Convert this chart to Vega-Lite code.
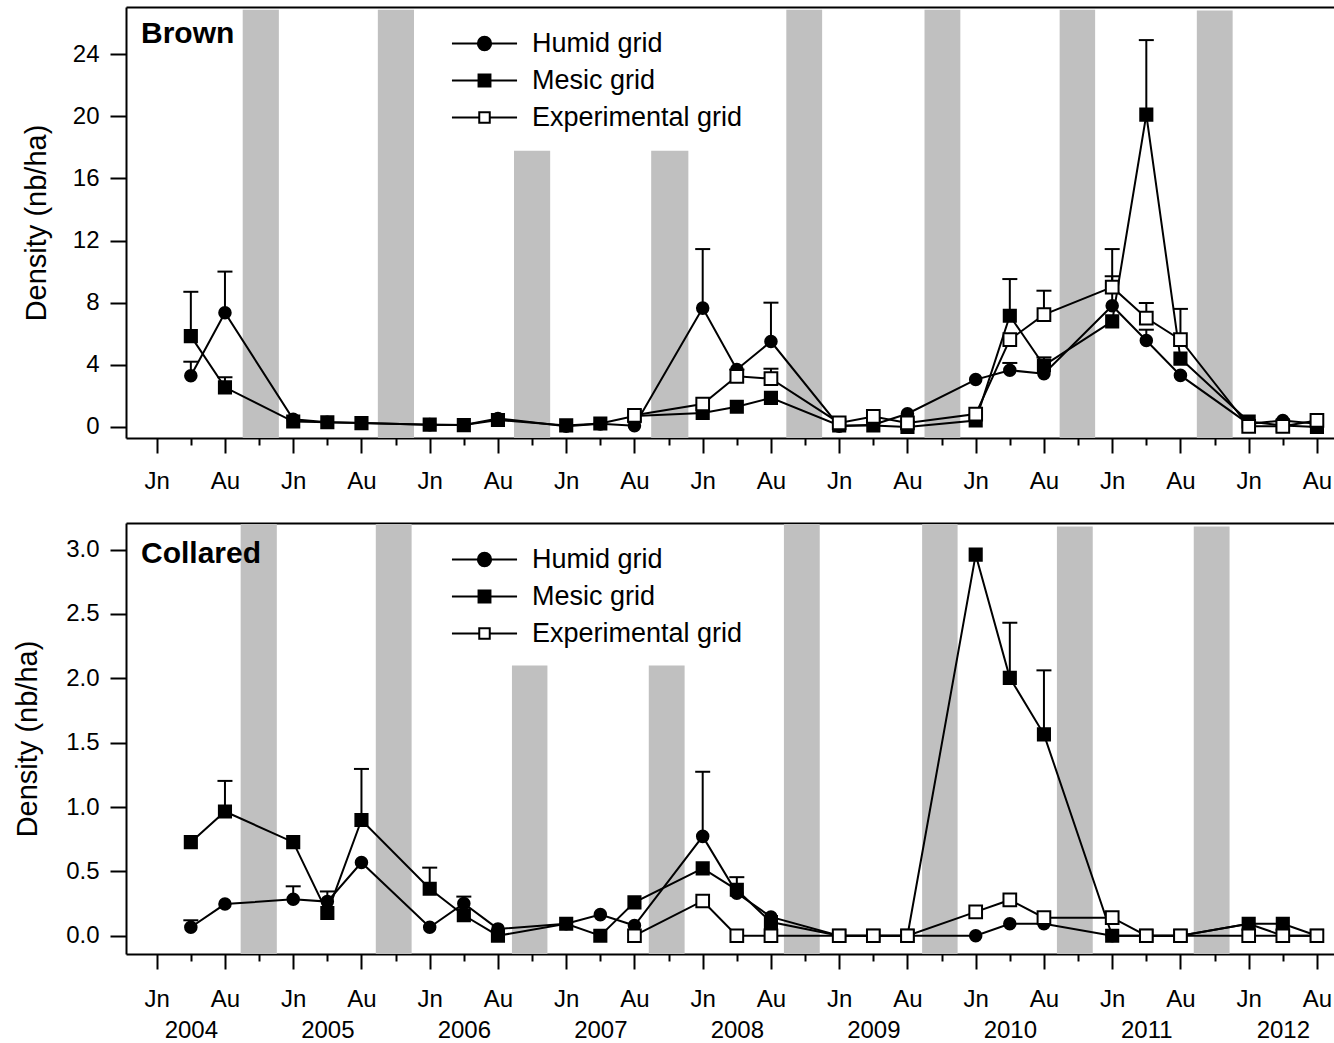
{
  "$schema": "https://vega.github.io/schema/vega-lite/v6.json",
  "padding": {"left": 13, "top": 7, "right": 0, "bottom": 0},
  "spacing": 29,
  "background": "white",
  "config": {
    "view": {"stroke": null},
    "font": "Liberation Sans",
    "axis": {"labelColor": "black", "titleColor": "black", "domainColor": "black", "tickColor": "black", "domainWidth": 2, "tickWidth": 2, "grid": false, "labelFont": "Liberation Sans", "titleFont": "Liberation Sans"},
    "legend": {"labelFont": "Liberation Sans", "labelColor": "black"}
  },
  "resolve": {"scale": {"x": "independent", "y": "independent", "shape": "independent", "fill": "independent", "size": "independent"}, "legend": {"shape": "independent", "fill": "independent", "size": "independent"}},
  "datasets": {
    "series": [
      {"p": "Brown", "g": "Humid  grid", "t": 1, "v": 3.3, "e": 4.2},
      {"p": "Brown", "g": "Humid  grid", "t": 2, "v": 7.35, "e": 10.0},
      {"p": "Brown", "g": "Humid  grid", "t": 4, "v": 0.5},
      {"p": "Brown", "g": "Humid  grid", "t": 5, "v": 0.3},
      {"p": "Brown", "g": "Humid  grid", "t": 6, "v": 0.25},
      {"p": "Brown", "g": "Humid  grid", "t": 8, "v": 0.15},
      {"p": "Brown", "g": "Humid  grid", "t": 9, "v": 0.12},
      {"p": "Brown", "g": "Humid  grid", "t": 10, "v": 0.55},
      {"p": "Brown", "g": "Humid  grid", "t": 12, "v": 0.05},
      {"p": "Brown", "g": "Humid  grid", "t": 13, "v": 0.2},
      {"p": "Brown", "g": "Humid  grid", "t": 14, "v": 0.08},
      {"p": "Brown", "g": "Humid  grid", "t": 16, "v": 7.65, "e": 11.45},
      {"p": "Brown", "g": "Humid  grid", "t": 17, "v": 3.7},
      {"p": "Brown", "g": "Humid  grid", "t": 18, "v": 5.5, "e": 8.0},
      {"p": "Brown", "g": "Humid  grid", "t": 20, "v": 0.05},
      {"p": "Brown", "g": "Humid  grid", "t": 21, "v": 0.15},
      {"p": "Brown", "g": "Humid  grid", "t": 22, "v": 0.85},
      {"p": "Brown", "g": "Humid  grid", "t": 24, "v": 3.05},
      {"p": "Brown", "g": "Humid  grid", "t": 25, "v": 3.65, "e": 4.12},
      {"p": "Brown", "g": "Humid  grid", "t": 26, "v": 3.43},
      {"p": "Brown", "g": "Humid  grid", "t": 28, "v": 7.8, "e": 9.7},
      {"p": "Brown", "g": "Humid  grid", "t": 29, "v": 5.57, "e": 6.26},
      {"p": "Brown", "g": "Humid  grid", "t": 30, "v": 3.32},
      {"p": "Brown", "g": "Humid  grid", "t": 32, "v": 0.2},
      {"p": "Brown", "g": "Humid  grid", "t": 33, "v": 0.42},
      {"p": "Brown", "g": "Humid  grid", "t": 34, "v": 0.2},
      {"p": "Brown", "g": "Mesic grid", "t": 1, "v": 5.85, "e": 8.7},
      {"p": "Brown", "g": "Mesic grid", "t": 2, "v": 2.55, "e": 3.2},
      {"p": "Brown", "g": "Mesic grid", "t": 4, "v": 0.35},
      {"p": "Brown", "g": "Mesic grid", "t": 5, "v": 0.3},
      {"p": "Brown", "g": "Mesic grid", "t": 6, "v": 0.25},
      {"p": "Brown", "g": "Mesic grid", "t": 8, "v": 0.15},
      {"p": "Brown", "g": "Mesic grid", "t": 9, "v": 0.12},
      {"p": "Brown", "g": "Mesic grid", "t": 10, "v": 0.45},
      {"p": "Brown", "g": "Mesic grid", "t": 12, "v": 0.1},
      {"p": "Brown", "g": "Mesic grid", "t": 13, "v": 0.22},
      {"p": "Brown", "g": "Mesic grid", "t": 14, "v": 0.7},
      {"p": "Brown", "g": "Mesic grid", "t": 16, "v": 0.9},
      {"p": "Brown", "g": "Mesic grid", "t": 17, "v": 1.3},
      {"p": "Brown", "g": "Mesic grid", "t": 18, "v": 1.87},
      {"p": "Brown", "g": "Mesic grid", "t": 20, "v": 0.1},
      {"p": "Brown", "g": "Mesic grid", "t": 21, "v": 0.1},
      {"p": "Brown", "g": "Mesic grid", "t": 22, "v": 0.0},
      {"p": "Brown", "g": "Mesic grid", "t": 24, "v": 0.42},
      {"p": "Brown", "g": "Mesic grid", "t": 25, "v": 7.16, "e": 9.52},
      {"p": "Brown", "g": "Mesic grid", "t": 26, "v": 3.96, "e": 4.48},
      {"p": "Brown", "g": "Mesic grid", "t": 28, "v": 6.8},
      {"p": "Brown", "g": "Mesic grid", "t": 29, "v": 20.1, "e": 24.9},
      {"p": "Brown", "g": "Mesic grid", "t": 30, "v": 4.4},
      {"p": "Brown", "g": "Mesic grid", "t": 32, "v": 0.35},
      {"p": "Brown", "g": "Mesic grid", "t": 33, "v": 0.1},
      {"p": "Brown", "g": "Mesic grid", "t": 34, "v": 0.0},
      {"p": "Brown", "g": "Experimental grid", "t": 14, "v": 0.75},
      {"p": "Brown", "g": "Experimental grid", "t": 16, "v": 1.48},
      {"p": "Brown", "g": "Experimental grid", "t": 17, "v": 3.26, "e": 3.7},
      {"p": "Brown", "g": "Experimental grid", "t": 18, "v": 3.11, "e": 3.75},
      {"p": "Brown", "g": "Experimental grid", "t": 20, "v": 0.26},
      {"p": "Brown", "g": "Experimental grid", "t": 21, "v": 0.68},
      {"p": "Brown", "g": "Experimental grid", "t": 22, "v": 0.26},
      {"p": "Brown", "g": "Experimental grid", "t": 24, "v": 0.83},
      {"p": "Brown", "g": "Experimental grid", "t": 25, "v": 5.62},
      {"p": "Brown", "g": "Experimental grid", "t": 26, "v": 7.23, "e": 8.77},
      {"p": "Brown", "g": "Experimental grid", "t": 28, "v": 9.0, "e": 11.45},
      {"p": "Brown", "g": "Experimental grid", "t": 29, "v": 7.01, "e": 7.98},
      {"p": "Brown", "g": "Experimental grid", "t": 30, "v": 5.62, "e": 7.6},
      {"p": "Brown", "g": "Experimental grid", "t": 32, "v": 0.04},
      {"p": "Brown", "g": "Experimental grid", "t": 33, "v": 0.04},
      {"p": "Brown", "g": "Experimental grid", "t": 34, "v": 0.42},
      {"p": "Collared", "g": "Humid  grid", "t": 1, "v": 0.066, "e": 0.12},
      {"p": "Collared", "g": "Humid  grid", "t": 2, "v": 0.246},
      {"p": "Collared", "g": "Humid  grid", "t": 4, "v": 0.283, "e": 0.384},
      {"p": "Collared", "g": "Humid  grid", "t": 5, "v": 0.265, "e": 0.344},
      {"p": "Collared", "g": "Humid  grid", "t": 6, "v": 0.569},
      {"p": "Collared", "g": "Humid  grid", "t": 8, "v": 0.066},
      {"p": "Collared", "g": "Humid  grid", "t": 9, "v": 0.251, "e": 0.304},
      {"p": "Collared", "g": "Humid  grid", "t": 10, "v": 0.053},
      {"p": "Collared", "g": "Humid  grid", "t": 12, "v": 0.093},
      {"p": "Collared", "g": "Humid  grid", "t": 13, "v": 0.164},
      {"p": "Collared", "g": "Humid  grid", "t": 14, "v": 0.079},
      {"p": "Collared", "g": "Humid  grid", "t": 16, "v": 0.772, "e": 1.274},
      {"p": "Collared", "g": "Humid  grid", "t": 17, "v": 0.331},
      {"p": "Collared", "g": "Humid  grid", "t": 18, "v": 0.146},
      {"p": "Collared", "g": "Humid  grid", "t": 20, "v": 0},
      {"p": "Collared", "g": "Humid  grid", "t": 21, "v": 0},
      {"p": "Collared", "g": "Humid  grid", "t": 22, "v": 0},
      {"p": "Collared", "g": "Humid  grid", "t": 24, "v": 0},
      {"p": "Collared", "g": "Humid  grid", "t": 25, "v": 0.093},
      {"p": "Collared", "g": "Humid  grid", "t": 26, "v": 0.093},
      {"p": "Collared", "g": "Humid  grid", "t": 28, "v": 0},
      {"p": "Collared", "g": "Humid  grid", "t": 29, "v": 0},
      {"p": "Collared", "g": "Humid  grid", "t": 30, "v": 0},
      {"p": "Collared", "g": "Humid  grid", "t": 32, "v": 0.093},
      {"p": "Collared", "g": "Humid  grid", "t": 33, "v": 0},
      {"p": "Collared", "g": "Humid  grid", "t": 34, "v": 0},
      {"p": "Collared", "g": "Mesic grid", "t": 1, "v": 0.727},
      {"p": "Collared", "g": "Mesic grid", "t": 2, "v": 0.965, "e": 1.203},
      {"p": "Collared", "g": "Mesic grid", "t": 4, "v": 0.727},
      {"p": "Collared", "g": "Mesic grid", "t": 5, "v": 0.177},
      {"p": "Collared", "g": "Mesic grid", "t": 6, "v": 0.899, "e": 1.296},
      {"p": "Collared", "g": "Mesic grid", "t": 8, "v": 0.365, "e": 0.529},
      {"p": "Collared", "g": "Mesic grid", "t": 9, "v": 0.159},
      {"p": "Collared", "g": "Mesic grid", "t": 10, "v": 0.0},
      {"p": "Collared", "g": "Mesic grid", "t": 12, "v": 0.093},
      {"p": "Collared", "g": "Mesic grid", "t": 13, "v": 0.0},
      {"p": "Collared", "g": "Mesic grid", "t": 14, "v": 0.259},
      {"p": "Collared", "g": "Mesic grid", "t": 16, "v": 0.523},
      {"p": "Collared", "g": "Mesic grid", "t": 17, "v": 0.357, "e": 0.455},
      {"p": "Collared", "g": "Mesic grid", "t": 18, "v": 0.106},
      {"p": "Collared", "g": "Mesic grid", "t": 20, "v": 0},
      {"p": "Collared", "g": "Mesic grid", "t": 21, "v": 0},
      {"p": "Collared", "g": "Mesic grid", "t": 22, "v": 0},
      {"p": "Collared", "g": "Mesic grid", "t": 24, "v": 2.961},
      {"p": "Collared", "g": "Mesic grid", "t": 25, "v": 2.004, "e": 2.432},
      {"p": "Collared", "g": "Mesic grid", "t": 26, "v": 1.565, "e": 2.062},
      {"p": "Collared", "g": "Mesic grid", "t": 28, "v": 0},
      {"p": "Collared", "g": "Mesic grid", "t": 29, "v": 0},
      {"p": "Collared", "g": "Mesic grid", "t": 30, "v": 0},
      {"p": "Collared", "g": "Mesic grid", "t": 32, "v": 0.093},
      {"p": "Collared", "g": "Mesic grid", "t": 33, "v": 0.093},
      {"p": "Collared", "g": "Mesic grid", "t": 34, "v": 0},
      {"p": "Collared", "g": "Experimental grid", "t": 14, "v": 0},
      {"p": "Collared", "g": "Experimental grid", "t": 16, "v": 0.27},
      {"p": "Collared", "g": "Experimental grid", "t": 17, "v": 0},
      {"p": "Collared", "g": "Experimental grid", "t": 18, "v": 0},
      {"p": "Collared", "g": "Experimental grid", "t": 20, "v": 0},
      {"p": "Collared", "g": "Experimental grid", "t": 21, "v": 0},
      {"p": "Collared", "g": "Experimental grid", "t": 22, "v": 0},
      {"p": "Collared", "g": "Experimental grid", "t": 24, "v": 0.185},
      {"p": "Collared", "g": "Experimental grid", "t": 25, "v": 0.278},
      {"p": "Collared", "g": "Experimental grid", "t": 26, "v": 0.14},
      {"p": "Collared", "g": "Experimental grid", "t": 28, "v": 0.14},
      {"p": "Collared", "g": "Experimental grid", "t": 29, "v": 0},
      {"p": "Collared", "g": "Experimental grid", "t": 30, "v": 0},
      {"p": "Collared", "g": "Experimental grid", "t": 32, "v": 0},
      {"p": "Collared", "g": "Experimental grid", "t": 33, "v": 0},
      {"p": "Collared", "g": "Experimental grid", "t": 34, "v": 0}
    ],
    "winters": [
      {"p": "Brown", "s": 2.52, "f": 3.58, "top": 26.85},
      {"p": "Brown", "s": 6.48, "f": 7.54, "top": 26.85},
      {"p": "Brown", "s": 10.47, "f": 11.53, "top": 17.77},
      {"p": "Brown", "s": 14.49, "f": 15.58, "top": 17.77},
      {"p": "Brown", "s": 18.45, "f": 19.5, "top": 26.85},
      {"p": "Brown", "s": 22.5, "f": 23.55, "top": 26.85},
      {"p": "Brown", "s": 26.46, "f": 27.5, "top": 26.85},
      {"p": "Brown", "s": 30.48, "f": 31.53, "top": 26.8},
      {"p": "Collared", "s": 2.46, "f": 3.52, "top": 3.2},
      {"p": "Collared", "s": 6.42, "f": 7.47, "top": 3.2},
      {"p": "Collared", "s": 10.41, "f": 11.45, "top": 2.1},
      {"p": "Collared", "s": 14.42, "f": 15.47, "top": 2.1},
      {"p": "Collared", "s": 18.38, "f": 19.43, "top": 3.2},
      {"p": "Collared", "s": 22.43, "f": 23.47, "top": 3.2},
      {"p": "Collared", "s": 26.38, "f": 27.43, "top": 3.18},
      {"p": "Collared", "s": 30.39, "f": 31.44, "top": 3.18}
    ]
  },
  "vconcat": [
    {
      "width": 1208,
      "height": 431,
      "title": {"text": "Brown", "anchor": "start", "frame": "group", "orient": "top", "offset": 0, "dx": 15, "dy": 66, "baseline": "alphabetic", "font": "Liberation Sans", "fontSize": 30, "fontWeight": "bold", "color": "black"},
      "resolve": {"axis": {"x": "independent"}, "scale": {"shape": "independent", "fill": "independent", "size": "independent"}},
      "layer": [
        {
          "data": {"name": "winters"},
          "transform": [{"filter": "datum.p === 'Brown'"}],
          "mark": {"type": "rect", "color": "#c0c0c0"},
          "encoding": {
            "x": {"field": "s", "type": "quantitative", "scale": {"domain": [-0.9, 34.5], "nice": false, "zero": false}, "axis": null},
            "x2": {"field": "f"},
            "y": {"field": "top", "type": "quantitative", "scale": {"domain": [-0.71, 27.03], "nice": false, "zero": false}},
            "y2": {"datum": -0.71}
          }
        },
        {
          "data": {"name": "series"},
          "transform": [{"filter": "datum.p === 'Brown' && isValid(datum.e)"}],
          "mark": {"type": "rule", "color": "black", "strokeWidth": 2},
          "encoding": {
            "x": {"field": "t", "type": "quantitative", "scale": {"domain": [-0.9, 34.5], "nice": false, "zero": false}, "axis": null},
            "y": {"field": "v", "type": "quantitative", "scale": {"domain": [-0.71, 27.03], "nice": false, "zero": false}},
            "y2": {"field": "e"}
          }
        },
        {
          "data": {"name": "series"},
          "transform": [{"filter": "datum.p === 'Brown' && isValid(datum.e)"}],
          "mark": {"type": "tick", "orient": "horizontal", "size": 15, "thickness": 2, "color": "black", "opacity": 1},
          "encoding": {
            "x": {"field": "t", "type": "quantitative", "scale": {"domain": [-0.9, 34.5], "nice": false, "zero": false}, "axis": null},
            "y": {"field": "e", "type": "quantitative", "scale": {"domain": [-0.71, 27.03], "nice": false, "zero": false}}
          }
        },
        {
          "data": {"name": "series"},
          "transform": [{"filter": "datum.p === 'Brown'"}],
          "mark": {"type": "line", "color": "black", "strokeWidth": 2},
          "encoding": {
            "x": {"field": "t", "type": "quantitative", "scale": {"domain": [-0.9, 34.5], "nice": false, "zero": false},
              "axis": {"orient": "bottom", "values": [0,1,2,3,4,5,6,7,8,9,10,11,12,13,14,15,16,17,18,19,20,21,22,23,24,25,26,27,28,29,30,31,32,33,34], "title": null,
                "tickSize": {"condition": {"test": "datum.value % 2 === 0", "value": 15}, "value": 7},
                "labelExpr": "datum.value % 4 === 0 ? 'Jn' : (datum.value % 4 === 2 ? 'Au' : '')",
                "labelPadding": 16.5, "labelFontSize": 24, "labelOverlap": false, "labelFlush": false, "labelBound": false}},
            "y": {"field": "v", "type": "quantitative", "scale": {"domain": [-0.71, 27.03], "nice": false, "zero": false},
              "axis": {"values": [0,2,4,6,8,10,12,14,16,18,20,22,24,26], "title": "Density (nb/ha)",
                "tickSize": {"condition": {"test": "datum.value % 4 === 0", "value": 16}, "value": 8},
                "labelExpr": "datum.value % 4 === 0 ? datum.label : ''",
                "labelPadding": 11, "labelFontSize": 24, "labelOverlap": false, "labelFlush": false, "labelBound": false,
                "titleFontSize": 29, "titleFontWeight": "normal", "titleX": -89.7, "titleY": 215.5, "titleAngle": -90, "titleAlign": "center", "titleBaseline": "middle"}},
            "detail": {"field": "g"}
          }
        },
        {
          "data": {"name": "series"},
          "transform": [{"filter": "datum.p === 'Brown'"}],
          "mark": {"type": "point", "stroke": "black", "strokeWidth": 2, "opacity": 1, "fillOpacity": 1, "strokeOpacity": 1},
          "encoding": {
            "x": {"field": "t", "type": "quantitative", "scale": {"domain": [-0.9, 34.5], "nice": false, "zero": false},
              "axis": {"orient": "top", "labels": false, "ticks": false, "domain": true, "title": null}},
            "y": {"field": "v", "type": "quantitative", "scale": {"domain": [-0.71, 27.03], "nice": false, "zero": false}},
            "shape": {"field": "g", "type": "nominal", "scale": {"domain": ["Humid  grid", "Mesic grid", "Experimental grid"], "range": ["circle", "square", "square"]}, "legend": null},
            "fill": {"field": "g", "type": "nominal", "scale": {"domain": ["Humid  grid", "Mesic grid", "Experimental grid"], "range": ["black", "black", "white"]}, "legend": null},
            "size": {"field": "g", "type": "nominal", "scale": {"domain": ["Humid  grid", "Mesic grid", "Experimental grid"], "range": [133, 161, 161]}, "legend": null}
          }
        },
        {
          "data": {"name": "series"},
          "transform": [{"filter": "datum.p === 'Brown'"}],
          "mark": {"type": "point", "stroke": "black", "strokeWidth": 2, "opacity": 0, "size": 196},
          "encoding": {
            "x": {"field": "t", "type": "quantitative", "scale": {"domain": [-0.9, 34.5], "nice": false, "zero": false}, "axis": null},
            "y": {"field": "v", "type": "quantitative", "scale": {"domain": [-0.71, 27.03], "nice": false, "zero": false}},
            "shape": {"field": "g", "type": "nominal", "scale": {"domain": ["Humid  grid", "Mesic grid", "Experimental grid"], "range": ["M-4.65,0H-0.95M0.95,0H4.65M-0.95,0A0.95,0.95,0,1,1,0.95,0A0.95,0.95,0,1,1,-0.95,0Z", "M-4.65,0H-0.85M0.85,0H4.65M-0.85,-0.85H0.85V0.85H-0.85Z", "M-4.65,0H-0.75M0.75,0H4.65M-0.75,-0.75H0.75V0.75H-0.75Z"]},
              "legend": {"orient": "none", "legendX": 345, "legendY": 23, "title": null, "padding": 0, "symbolSize": 196, "symbolOffset": 0, "symbolOpacity": 1, "symbolStrokeWidth": 2, "labelOffset": 34, "labelFontSize": 27, "labelLimit": 500, "rowPadding": 9,
                "encode": {"symbols": {"stroke": {"value": "black"}, "strokeWidth": {"value": 2}, "strokeOpacity": {"value": 1}, "opacity": {"value": 1}}}}},
            "fill": {"field": "g", "type": "nominal", "scale": {"domain": ["Humid  grid", "Mesic grid", "Experimental grid"], "range": ["black", "black", "white"]}}
          }
        }
      ]
    },
    {
      "width": 1208,
      "height": 431,
      "title": {"text": "Collared", "anchor": "start", "frame": "group", "orient": "top", "offset": 0, "dx": 15, "dy": 70, "baseline": "alphabetic", "font": "Liberation Sans", "fontSize": 30, "fontWeight": "bold", "color": "black"},
      "resolve": {"axis": {"x": "independent"}, "scale": {"shape": "independent", "fill": "independent", "size": "independent"}},
      "layer": [
        {
          "data": {"name": "winters"},
          "transform": [{"filter": "datum.p === 'Collared'"}],
          "mark": {"type": "rect", "color": "#c0c0c0"},
          "encoding": {
            "x": {"field": "s", "type": "quantitative", "scale": {"domain": [-0.9, 34.5], "nice": false, "zero": false}, "axis": null},
            "x2": {"field": "f"},
            "y": {"field": "top", "type": "quantitative", "scale": {"domain": [-0.142, 3.207], "nice": false, "zero": false}},
            "y2": {"datum": -0.142}
          }
        },
        {
          "data": {"name": "series"},
          "transform": [{"filter": "datum.p === 'Collared' && isValid(datum.e)"}],
          "mark": {"type": "rule", "color": "black", "strokeWidth": 2},
          "encoding": {
            "x": {"field": "t", "type": "quantitative", "scale": {"domain": [-0.9, 34.5], "nice": false, "zero": false}, "axis": null},
            "y": {"field": "v", "type": "quantitative", "scale": {"domain": [-0.142, 3.207], "nice": false, "zero": false}},
            "y2": {"field": "e"}
          }
        },
        {
          "data": {"name": "series"},
          "transform": [{"filter": "datum.p === 'Collared' && isValid(datum.e)"}],
          "mark": {"type": "tick", "orient": "horizontal", "size": 15, "thickness": 2, "color": "black", "opacity": 1},
          "encoding": {
            "x": {"field": "t", "type": "quantitative", "scale": {"domain": [-0.9, 34.5], "nice": false, "zero": false}, "axis": null},
            "y": {"field": "e", "type": "quantitative", "scale": {"domain": [-0.142, 3.207], "nice": false, "zero": false}}
          }
        },
        {
          "data": {"name": "series"},
          "transform": [{"filter": "datum.p === 'Collared'"}],
          "mark": {"type": "line", "color": "black", "strokeWidth": 2},
          "encoding": {
            "x": {"field": "t", "type": "quantitative", "scale": {"domain": [-0.9, 34.5], "nice": false, "zero": false},
              "axis": {"orient": "bottom", "values": [0,1,2,3,4,5,6,7,8,9,10,11,12,13,14,15,16,17,18,19,20,21,22,23,24,25,26,27,28,29,30,31,32,33,34], "title": null,
                "tickSize": {"condition": {"test": "datum.value % 2 === 0", "value": 15}, "value": 7},
                "labelExpr": "datum.value % 4 === 0 ? 'Jn' : (datum.value % 4 === 2 ? 'Au' : (datum.value % 4 === 1 ? '' + (2004 + (datum.value - 1) / 4) : ''))",
                "labelPadding": {"condition": {"test": "datum.value % 4 === 1", "value": 57}, "value": 18.5},
                "labelFontSize": 24,
                "labelOverlap": false, "labelFlush": false, "labelBound": false}},
            "y": {"field": "v", "type": "quantitative", "scale": {"domain": [-0.142, 3.207], "nice": false, "zero": false},
              "axis": {"values": [0,0.25,0.5,0.75,1,1.25,1.5,1.75,2,2.25,2.5,2.75,3], "title": "Density (nb/ha)",
                "tickSize": {"condition": {"test": "(datum.value * 2) % 1 === 0", "value": 16}, "value": 8},
                "labelExpr": "(datum.value * 2) % 1 === 0 ? format(datum.value, '.1f') : ''",
                "labelPadding": 11, "labelFontSize": 24, "labelOverlap": false, "labelFlush": false, "labelBound": false,
                "titleFontSize": 29, "titleFontWeight": "normal", "titleX": -98.5, "titleY": 215.5, "titleAngle": -90, "titleAlign": "center", "titleBaseline": "middle"}},
            "detail": {"field": "g"}
          }
        },
        {
          "data": {"name": "series"},
          "transform": [{"filter": "datum.p === 'Collared'"}],
          "mark": {"type": "point", "stroke": "black", "strokeWidth": 2, "opacity": 1, "fillOpacity": 1, "strokeOpacity": 1},
          "encoding": {
            "x": {"field": "t", "type": "quantitative", "scale": {"domain": [-0.9, 34.5], "nice": false, "zero": false},
              "axis": {"orient": "top", "labels": false, "ticks": false, "domain": true, "title": null}},
            "y": {"field": "v", "type": "quantitative", "scale": {"domain": [-0.142, 3.207], "nice": false, "zero": false}},
            "shape": {"field": "g", "type": "nominal", "scale": {"domain": ["Humid  grid", "Mesic grid", "Experimental grid"], "range": ["circle", "square", "square"]}, "legend": null},
            "fill": {"field": "g", "type": "nominal", "scale": {"domain": ["Humid  grid", "Mesic grid", "Experimental grid"], "range": ["black", "black", "white"]}, "legend": null},
            "size": {"field": "g", "type": "nominal", "scale": {"domain": ["Humid  grid", "Mesic grid", "Experimental grid"], "range": [133, 161, 161]}, "legend": null}
          }
        },
        {
          "data": {"name": "series"},
          "transform": [{"filter": "datum.p === 'Collared'"}],
          "mark": {"type": "point", "stroke": "black", "strokeWidth": 2, "opacity": 0, "size": 196},
          "encoding": {
            "x": {"field": "t", "type": "quantitative", "scale": {"domain": [-0.9, 34.5], "nice": false, "zero": false}, "axis": null},
            "y": {"field": "v", "type": "quantitative", "scale": {"domain": [-0.142, 3.207], "nice": false, "zero": false}},
            "shape": {"field": "g", "type": "nominal", "scale": {"domain": ["Humid  grid", "Mesic grid", "Experimental grid"], "range": ["M-4.65,0H-0.95M0.95,0H4.65M-0.95,0A0.95,0.95,0,1,1,0.95,0A0.95,0.95,0,1,1,-0.95,0Z", "M-4.65,0H-0.85M0.85,0H4.65M-0.85,-0.85H0.85V0.85H-0.85Z", "M-4.65,0H-0.75M0.75,0H4.65M-0.75,-0.75H0.75V0.75H-0.75Z"]},
              "legend": {"orient": "none", "legendX": 345, "legendY": 23, "title": null, "padding": 0, "symbolSize": 196, "symbolOffset": 0, "symbolOpacity": 1, "symbolStrokeWidth": 2, "labelOffset": 34, "labelFontSize": 27, "labelLimit": 500, "rowPadding": 9,
                "encode": {"symbols": {"stroke": {"value": "black"}, "strokeWidth": {"value": 2}, "strokeOpacity": {"value": 1}, "opacity": {"value": 1}}}}},
            "fill": {"field": "g", "type": "nominal", "scale": {"domain": ["Humid  grid", "Mesic grid", "Experimental grid"], "range": ["black", "black", "white"]}}
          }
        }
      ]
    }
  ]
}
